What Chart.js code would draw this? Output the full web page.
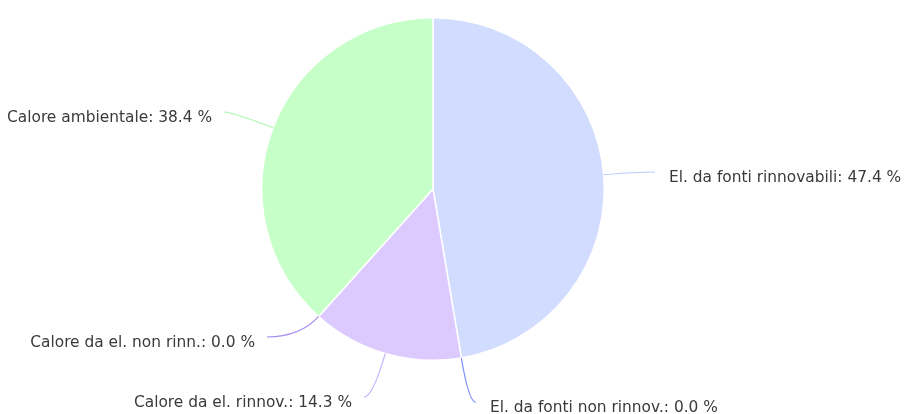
<!DOCTYPE html>
<html>
<head>
<meta charset="utf-8">
<script src="https://cdn.jsdelivr.net/npm/chart.js@4"></script>
<style>
  html, body { margin: 0; padding: 0; background: #fff; }
  #wrap { width: 906px; height: 414px; }
</style>
</head>
<body>
<div id="wrap"><canvas id="pieChart" width="906" height="414"></canvas></div>
<script>
// Chart data
const categories = [
  "El. da fonti rinnovabili",
  "El. da fonti non rinnov.",
  "Calore da el. rinnov.",
  "Calore da el. non rinn.",
  "Calore ambientale"
];
const shares = [47.4, 0.0, 14.3, 0.0, 38.4];
const sliceColors = ["#d2dcff", "#8a9aff", "#dccaff", "#b49cf2", "#c6ffc8"];
const connectorColors = ["#bccaff", "#7d8fff", "#cbb6ff", "#a68cf0", "#a8f5ac"];

// where each data label sits (text anchor + which side the text runs to)
const labelSpots = [
  { x: 669, y: 181.5, align: "left" },
  { x: 490, y: 412, align: "left" },
  { x: 352, y: 406.5, align: "right" },
  { x: 255, y: 346.5, align: "right" },
  { x: 212, y: 121.5, align: "right" }
];

const labelFont = '15.4px "DejaVu Sans", sans-serif';
const labelColor = "#3a3a3a";

// draws leader lines + labels for every slice
const pieLabels = {
  id: "pieLabels",
  afterDatasetsDraw(chart) {
    const ctx = chart.ctx;
    const meta = chart.getDatasetMeta(0);
    ctx.save();
    ctx.font = labelFont;
    meta.data.forEach((arc, i) => {
      const p = arc.getProps(["x", "y", "startAngle", "endAngle", "outerRadius"], true);
      const mid = (p.startAngle + p.endAngle) / 2;
      const px = p.x + Math.cos(mid) * p.outerRadius;
      const py = p.y + Math.sin(mid) * p.outerRadius;
      const spot = labelSpots[i];
      const ex = spot.align === "left" ? spot.x - 14 : spot.x + 12;
      const ey = spot.y - 9.5;

      // bend point: radial line out of the slice meets the label's row
      let cx = (px + ex) / 2, cy = ey;
      const s = Math.sin(mid);
      if (Math.abs(s) > 0.01) {
        const t = (ey - py) / s;
        if (t > 0) cx = px + Math.cos(mid) * t;
      }
      if (spot.align === "left") cx = Math.min(cx, ex);
      else cx = Math.max(cx, ex);

      ctx.beginPath();
      ctx.moveTo(px, py);
      ctx.quadraticCurveTo(cx, cy, ex, ey);
      ctx.strokeStyle = connectorColors[i];
      ctx.lineWidth = 1.2;
      ctx.stroke();

      ctx.fillStyle = labelColor;
      ctx.textAlign = spot.align;
      ctx.textBaseline = "alphabetic";
      ctx.fillText(categories[i] + ": " + shares[i].toFixed(1) + " %", spot.x, spot.y);
    });
    ctx.restore();
  }
};

const pieChart = new Chart(document.getElementById("pieChart").getContext("2d"), {
  type: "pie",
  data: {
    labels: categories,
    datasets: [{
      data: shares,
      backgroundColor: sliceColors,
      borderColor: "#ffffff",
      borderWidth: 1.5
    }]
  },
  options: {
    responsive: false,
    animation: false,
    layout: { padding: { top: 17, bottom: 53, left: 0, right: 40 } },
    plugins: {
      legend: { display: false },
      tooltip: { enabled: false }
    }
  },
  plugins: [pieLabels]
});
</script>
</body>
</html>
